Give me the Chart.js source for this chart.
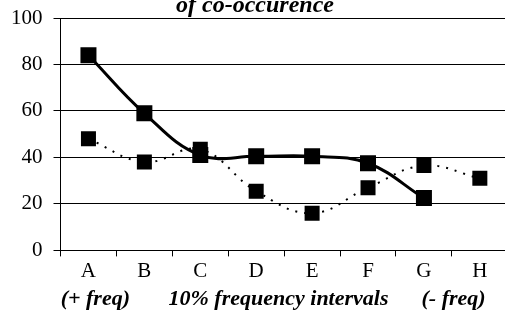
<!DOCTYPE html>
<html><head><meta charset="utf-8">
<script src="https://cdn.jsdelivr.net/npm/chart.js@4"></script>
<style>
html,body{margin:0;padding:0;background:#fff;overflow:hidden;width:505px;height:313px;}
#wrap{position:absolute;left:0;top:-8px;width:520px;height:321px;}
</style></head><body>
<div id="wrap"><canvas id="c"></canvas></div>
<script>
const categories = ["A","B","C","D","E","F","G","H"];
const solidSeries = [84, 59, 41, 40.5, 40.5, 37.5, 22.5, null];
const dottedSeries = [48, 38, 43.5, 25.5, 16, 27, 36.5, 31];
const yTicks = [0, 20, 40, 60, 80, 100];
const titleText = "of co-occurence";
const xTitle = "(+ freq)       10% frequency intervals      (- freq)    ";

const serif = "'Liberation Serif', 'Times New Roman', serif";
function draw(){
new Chart(document.getElementById('c'), {
  type: 'line',
  data: {
    labels: categories,
    datasets: [
      {data: solidSeries, borderColor:'#000', backgroundColor:'#000', borderWidth:3, tension:0.4,
       pointStyle:'rect', pointRadius:9.2, pointHoverRadius:9.2, spanGaps:false},
      {data: dottedSeries, borderColor:'#000', backgroundColor:'#000', borderWidth:2, borderDash:[2,7], tension:0.4,
       pointStyle:'rect', pointRadius:9.2, pointHoverRadius:9.2}
    ]
  },
  options: {
    responsive:true, maintainAspectRatio:false, animation:false,
    devicePixelRatio:1,
    layout:{padding:{left:0,right:10,top:0,bottom:0}},
    plugins:{
      legend:{display:false}, tooltip:{enabled:false},
      title:{display:true, text:titleText, color:'#000', padding:{top:2,bottom:0},
        font:{family:serif, size:24, weight:'bold', style:'italic', lineHeight:1.0}}
    },
    scales:{
      x:{offset:true,
        grid:{offset:true, drawOnChartArea:false, color:'#000', tickLength:6, tickColor:'#000'},
        border:{color:'#000', width:1},
        ticks:{color:'#000', font:{family:serif, size:21}, padding:2.5, maxRotation:0},
        title:{display:true, text:xTitle, color:'#000', padding:{top:0,bottom:0},
          font:{family:serif, size:22, weight:'bold', style:'italic'}}
      },
      y:{min:0, max:100,
        afterBuildTicks:(ax)=>{ax.ticks = yTicks.map(v=>({value:v}));},
        grid:{color:'#000', lineWidth:1, tickLength:7, tickColor:'#000'},
        border:{color:'#000', width:1},
        ticks:{color:'#000', font:{family:serif, size:21}, padding:11}
      }
    }
  }
});
}
Promise.all([
  document.fonts.load("21px 'Liberation Serif'"),
  document.fonts.load("italic bold 22px 'Liberation Serif'")
]).then(draw, draw);
</script></body></html>
